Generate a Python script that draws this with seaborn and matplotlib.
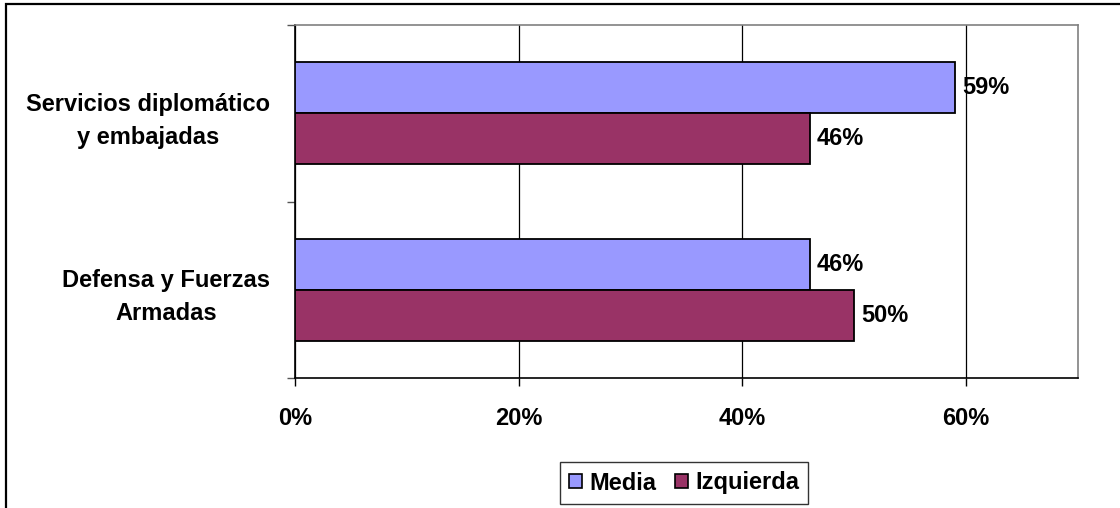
import pandas as pd
import matplotlib.pyplot as plt
import seaborn as sns
from matplotlib.patches import Rectangle, Patch
from matplotlib.ticker import PercentFormatter

# Data
categories = ["Servicios diplomático\ny embajadas", "Defensa y Fuerzas\nArmadas"]
series = ["Media", "Izquierda"]
media = [0.59, 0.46]
izquierda = [0.46, 0.50]
colors = ["#9999FF", "#993366"]

df = pd.DataFrame({
    "Categoria": categories * 2,
    "Serie": [series[0]] * 2 + [series[1]] * 2,
    "Valor": media + izquierda,
})

sns.set_style("white")
plt.rcParams["font.family"] = ["Liberation Sans", "DejaVu Sans"]
plt.rcParams["font.weight"] = "bold"
plt.rcParams["text.color"] = "black"
plt.rcParams["xtick.color"] = "black"
plt.rcParams["ytick.color"] = "black"
FS = 17

fig = plt.figure(figsize=(11.2, 5.08), dpi=100)
ax = fig.add_axes([295 / 1120, 1 - 378 / 508, 783 / 1120, 353 / 508])

sns.barplot(data=df, x="Valor", y="Categoria", hue="Serie", orient="h",
            palette=colors, edgecolor="black", linewidth=1.3, width=0.58,
            saturation=1, ax=ax, zorder=3)

# value labels
for cont in ax.containers:
    ax.bar_label(cont, labels=[f"{b.get_width():.0%}" for b in cont],
                 padding=5, fontsize=FS, fontweight="bold", color="black")

ax.set_xlim(0, 0.7)
ax.set_ylim(1.5, -0.5)
ax.set_xticks([0, 0.2, 0.4, 0.6])
ax.xaxis.set_major_formatter(PercentFormatter(1.0, decimals=0))
ax.set_xlabel("")
ax.set_ylabel("")
ax.grid(axis="x", color="black", linewidth=0.9, zorder=0)
ax.set_axisbelow(True)

ax.tick_params(axis="x", direction="out", length=6, width=1, pad=15,
               labelsize=FS, bottom=True, color="black", labelcolor="black")
ax.tick_params(axis="y", which="major", length=0, pad=18, labelsize=FS,
               labelcolor="black")
ax.set_yticks([-0.5, 0.5, 1.5], minor=True)
ax.tick_params(axis="y", which="minor", direction="out", length=6,
               width=1, left=True, color="#555555")
for lbl in ax.get_yticklabels():
    lbl.set_multialignment("center")
    lbl.set_linespacing(1.55)
    lbl.set_fontweight("bold")
for lbl in ax.get_xticklabels():
    lbl.set_fontweight("bold")

for side in ["left", "bottom"]:
    ax.spines[side].set_color("black")
    ax.spines[side].set_linewidth(1.2)
for side in ["top", "right"]:
    ax.spines[side].set_color("#808080")
    ax.spines[side].set_linewidth(1.2)

# legend
ax.legend_.remove()
handles = [Patch(facecolor=c, edgecolor="black", linewidth=1.2) for c in colors]
leg = fig.legend(handles, series, loc="center", ncol=2,
                 bbox_to_anchor=(684 / 1120, 1 - 483 / 508),
                 frameon=True, fancybox=False, edgecolor="black",
                 fontsize=FS, handlelength=0.55, handleheight=0.55,
                 handletextpad=0.3, columnspacing=0.8, borderpad=0.4,
                 borderaxespad=0)
leg.get_frame().set_linewidth(1.0)
for t in leg.get_texts():
    t.set_fontweight("bold")
    t.set_color("black")

# outer chart frame
fig.patches.append(Rectangle((6 / 1120, -0.2), 1.2, 1.2 - 4 / 508,
                             transform=fig.transFigure, fill=False,
                             edgecolor="black", linewidth=1.6))

fig.savefig("out.png", dpi=100)
